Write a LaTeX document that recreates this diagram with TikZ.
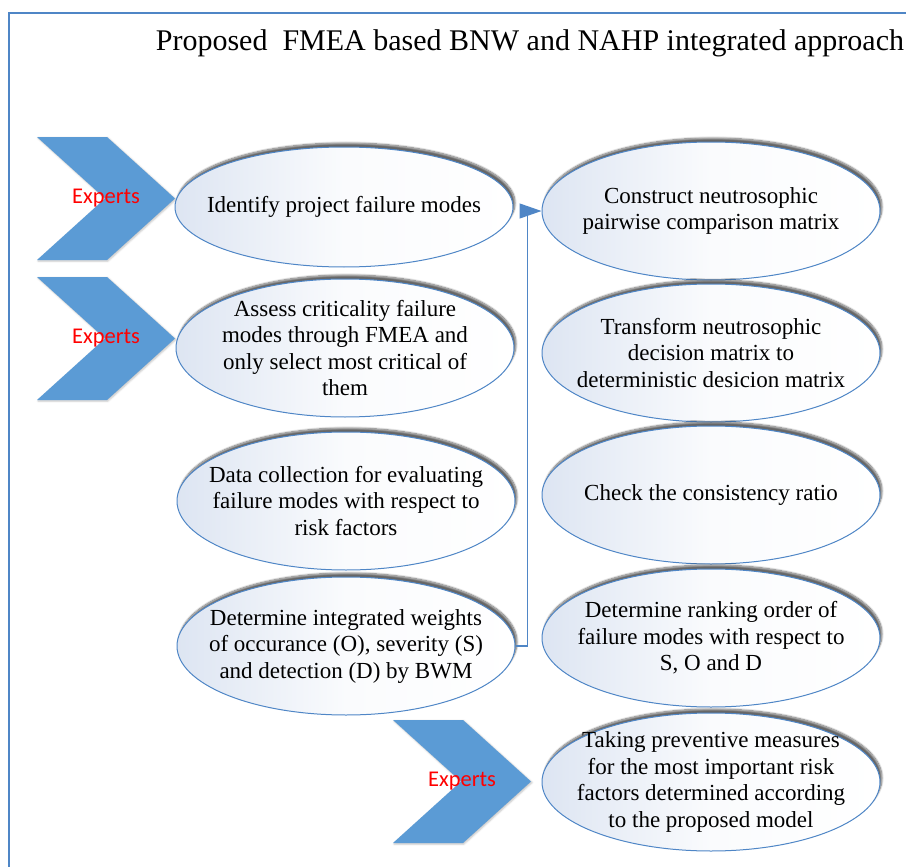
\documentclass[tikz,border=0pt]{standalone}
\usepackage{fontspec}
\setmainfont{Liberation Serif}
\newfontfamily\expertfont{Carlito}
\usetikzlibrary{shapes.geometric,arrows.meta,shadows.blur}
\definecolor{chevblue}{HTML}{5B9BD5}
\definecolor{edgeblue}{HTML}{4F86C6}
\definecolor{paleblue}{HTML}{DDE5F2}

\begin{document}
\begin{tikzpicture}[x=1pt,y=-1pt,
    stage/.style={ellipse,draw=edgeblue,line width=1pt,minimum width=338pt,minimum height=138pt,
        inner xsep=-30pt,inner ysep=-10pt,align=center,left color=paleblue,right color=white,middle color=white!85!paleblue,
        blur shadow={shadow xshift=2pt,shadow yshift=4pt,shadow blur steps=10,shadow opacity=60},
        font=\fontsize{23}{26.5}\selectfont},
    chevron/.style={fill=chevblue,blur shadow={shadow xshift=1pt,shadow yshift=-1pt,shadow opacity=25}},
    expert/.style={text=red,font=\expertfont\fontsize{22.5}{26}\selectfont},
    link/.style={draw=edgeblue,line width=1.2pt,-{Triangle[length=22pt,width=15pt]}}]
    \useasboundingbox (0,0) rectangle (906,867);
    % frame and title
    \draw[edgeblue,line width=1.2pt] (9,867) -- (9,13) -- (906,13);
    \node[font=\fontsize{30}{35}\selectfont,anchor=base] (title) at (530,51) {Proposed\ \ FMEA based BNW and NAHP integrated approach};
    % experts input
    \foreach \x/\y/\n in {37/137/ex1, 37/277/ex2, 393/720/ex3}{
        \fill[chevron] (\x,\y) -- ++(70,0) -- ++(68,61.5) -- ++(-68,61.5) -- ++(-70,0) -- ++(68,-61.5) -- cycle;
        \node[expert] (\n) at (\x+69,\y+61.5) {Experts};
    }
    % FMEA and BWM steps
    \node[stage,minimum height=120pt] (fm1) at (344,207) {Identify project failure modes};
    \node[stage] (fm2) at (345,348) {Assess criticality failure\\modes through FMEA and\\only select most critical of\\them};
    \node[stage] (fm3) at (346,501) {Data collection for evaluating\\failure modes with respect to\\risk factors};
    \node[stage] (fm4) at (346,646) {Determine integrated weights\\of occurance (O), severity (S)\\and detection (D) by BWM};
    % NAHP steps
    \node[stage] (cn1) at (711,211) {Construct neutrosophic\\pairwise comparison matrix};
    \node[stage] (cn2) at (711,353) {Transform neutrosophic\\decision matrix to\\deterministic desicion matrix};
    \node[stage] (cn3) at (711,495) {Check the consistency ratio};
    \node[stage] (cn4) at (711,638) {Determine ranking order of\\failure modes with respect to\\S, O and D};
    \node[stage] (cn5) at (711,782) {Taking preventive measures\\for the most important risk\\factors determined according\\to the proposed model};
    \draw[link] (fm4.east) -- ++(12,0) |- (cn1.west);
\end{tikzpicture}
\end{document}
